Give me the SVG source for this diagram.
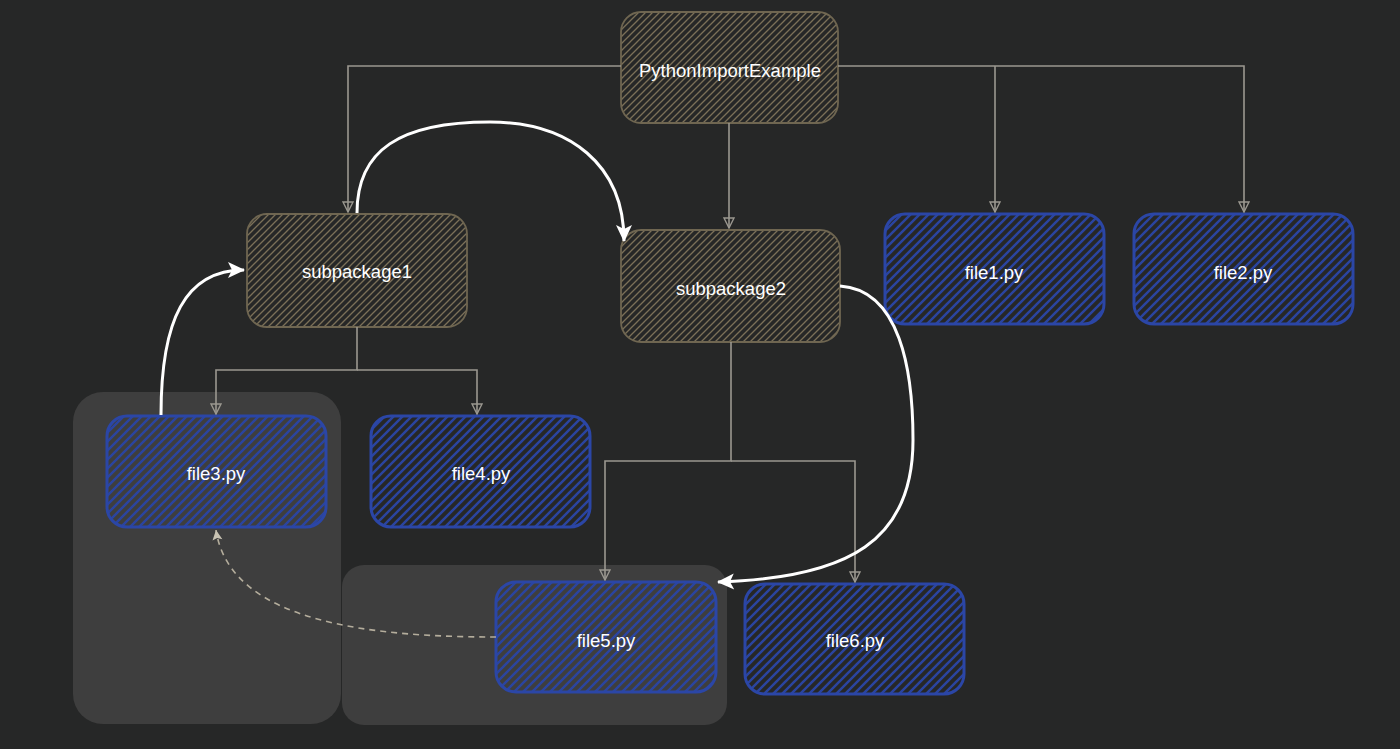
<svg xmlns="http://www.w3.org/2000/svg" width="1400" height="749" viewBox="0 0 1400 749">
<style>
.lbl{font-family:"Liberation Sans",Arial,sans-serif;font-size:18.5px;fill:#ffffff;text-anchor:middle;dominant-baseline:central}
.brown{fill:url(#hb);stroke:#6f6651;stroke-width:1.8}
.blue{fill:url(#hbl);stroke:#2b46a6;stroke-width:3}
.conn{fill:none;stroke:#9b9890;stroke-width:1.6}
.white{fill:none;stroke:#ffffff;stroke-width:3}
.dash{fill:none;stroke:#b4ad9c;stroke-width:1.6;stroke-dasharray:6 5}
.panel{fill:#3e3e3e}
</style>
<defs>
<pattern id="hb" patternUnits="userSpaceOnUse" width="7" height="7">
<path d="M-2,2 L2,-2 M0,7 L7,0 M5,9 L9,5" stroke="#7b7058" stroke-width="1.3"/>
</pattern>
<pattern id="hbl" patternUnits="userSpaceOnUse" width="9" height="9">
<path d="M-2,2 L2,-2 M0,9 L9,0 M7,11 L11,7" stroke="#2a44a0" stroke-width="2.4"/>
</pattern>
<marker id="ag" viewBox="0 0 12 12" refX="11" refY="6" markerWidth="12" markerHeight="12" markerUnits="userSpaceOnUse" orient="auto">
<path d="M1,1 L11,6 L1,11 Z" fill="none" stroke="#9b9890" stroke-width="1.4"/>
</marker>
<marker id="aw" viewBox="0 0 20 20" refX="18" refY="10" markerWidth="20" markerHeight="20" markerUnits="userSpaceOnUse" orient="auto">
<path d="M2,2 L19,10 L2,18 L6,10 Z" fill="#ffffff"/>
</marker>
<marker id="ad" viewBox="0 0 12 12" refX="11" refY="6" markerWidth="12" markerHeight="12" markerUnits="userSpaceOnUse" orient="auto">
<path d="M1,1 L11,6 L1,11 L3,6 Z" fill="#c8c2b2"/>
</marker>
</defs>
<rect width="1400" height="749" fill="#262727"/>
<g id="panels">
<rect class="panel" x="73" y="392" width="268" height="332" rx="30"/>
<rect class="panel" x="342" y="565" width="385" height="160" rx="22"/>
</g>
<g id="node-root"><rect class="brown" x="621" y="12" width="217" height="111" rx="20"/><text class="lbl" x="730" y="70">PythonImportExample</text></g>
<g id="node-subpackage1"><rect class="brown" x="247" y="214" width="220" height="113" rx="20"/><text class="lbl" x="357" y="271">subpackage1</text></g>
<g id="node-subpackage2"><rect class="brown" x="621" y="230" width="219" height="112" rx="20"/><text class="lbl" x="731" y="288">subpackage2</text></g>
<g id="node-file1"><rect class="blue" x="885" y="214" width="219" height="110" rx="20"/><text class="lbl" x="994" y="272">file1.py</text></g>
<g id="node-file2"><rect class="blue" x="1134" y="214" width="219" height="110" rx="20"/><text class="lbl" x="1243" y="272">file2.py</text></g>
<g id="node-file3"><rect class="blue" x="107" y="416" width="219" height="111" rx="20"/><text class="lbl" x="216" y="473">file3.py</text></g>
<g id="node-file4"><rect class="blue" x="371" y="416" width="219" height="111" rx="20"/><text class="lbl" x="481" y="473">file4.py</text></g>
<g id="node-file5"><rect class="blue" x="496" y="582" width="220" height="110" rx="20"/><text class="lbl" x="606" y="640">file5.py</text></g>
<g id="node-file6"><rect class="blue" x="745" y="584" width="219" height="110" rx="20"/><text class="lbl" x="855" y="640">file6.py</text></g>
<g id="connectors">
<path class="conn" d="M621,66 L348,66 L348,212" marker-end="url(#ag)"/>
<path class="conn" d="M838,66 L1244,66 L1244,212" marker-end="url(#ag)"/>
<path class="conn" d="M995,66 L995,212" marker-end="url(#ag)"/>
<path class="conn" d="M729,123 L729,228" marker-end="url(#ag)"/>
<path class="conn" d="M357,327 L357,370 L216,370 L216,414" marker-end="url(#ag)"/>
<path class="conn" d="M357,370 L477,370 L477,414" marker-end="url(#ag)"/>
<path class="conn" d="M731,342 L731,461 L605,461 L605,580" marker-end="url(#ag)"/>
<path class="conn" d="M731,461 L855,461 L855,582" marker-end="url(#ag)"/>
<path class="white" d="M357,213 C357,150 400,122 490,122 C570,122 624,165 624,241" marker-end="url(#aw)"/>
<path class="white" d="M161,415 C161,320 185,270 244,270" marker-end="url(#aw)"/>
<path class="white" d="M840,286 C900,290 913,370 913,440 C913,540 850,578 718,582" marker-end="url(#aw)"/>
<path class="dash" d="M496,637 C380,637 230,625 216,530" marker-end="url(#ad)"/>
</g>
</svg>
